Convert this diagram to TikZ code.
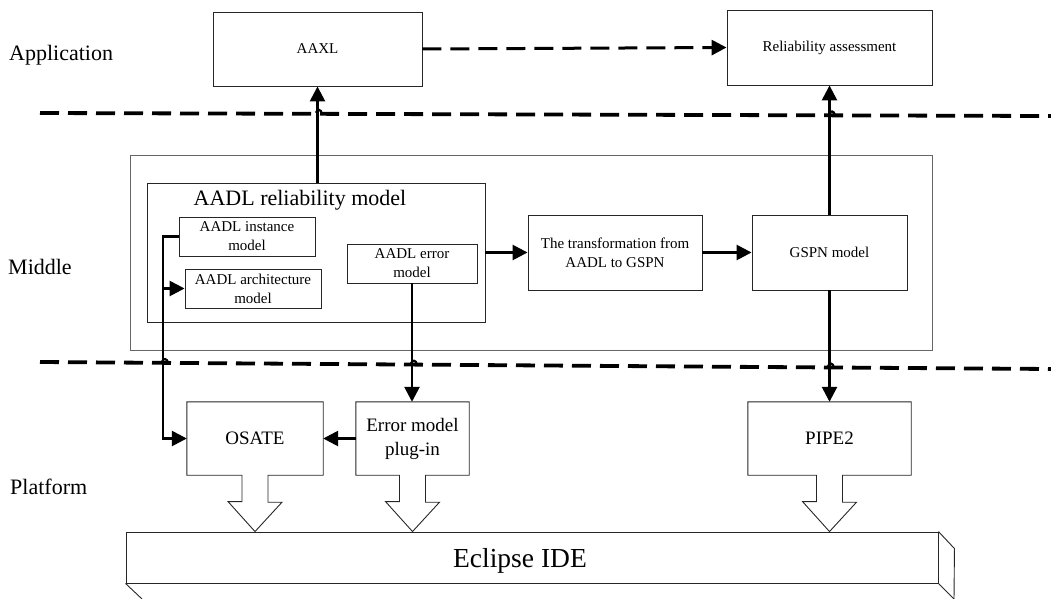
\documentclass[tikz,border=0pt]{standalone}
\usepackage{fontspec}
\setmainfont{Liberation Serif}
\usetikzlibrary{arrows.meta,calc}
\newcommand{\platformoutline}[1]{%
  \draw[outl] ([xshift=-13pt]#1.south) -- (#1.south west) -- (#1.north west) -- (#1.north east) -- (#1.south east)
    -- ([xshift=13pt]#1.south) -- ++(0,27) -- ++(14,0) -- (#1.south |- eclipse.north) -- ++(-27,-30) -- ++(14,0) -- cycle;}
\begin{document}
\begin{tikzpicture}[x=1pt,y=-1pt,
  box/.style={draw=black!85, line width=0.9pt, inner sep=0pt, align=center},
  plat/.style={inner sep=0pt, align=center, font=\fontsize{19}{24}\selectfont},
  outl/.style={draw=black!85, line width=0.9pt, line join=miter},
  small/.style={font=\fontsize{15}{19}\selectfont},
  conn/.style={line width=2.6pt, -{Triangle[length=15pt,width=15pt]}},
  sepline/.style={line width=3.8pt, dash pattern=on 19pt off 9pt},
  hop/.style={line width=2.2pt},
  lab/.style={font=\fontsize{22}{26}\selectfont, anchor=west, inner sep=0pt}]
\useasboundingbox (0,0) rectangle (1051,599);

% layer labels
\node[lab] (lapp) at (9,55) {Application};
\node[lab] (lmid) at (8,267) {Middle};
\node[lab] (lplat) at (10,487) {Platform};

% separators
\coordinate (d1a) at (40,113);
\coordinate (d1b) at (1051,116);
\coordinate (d2a) at (40,362);
\coordinate (d2b) at (1051,369);
\draw[sepline] (d1a) -- (d1b);
\draw[sepline] (d2a) -- (d2b);

% application layer
\node[box, small, minimum width=209pt, minimum height=74pt] (aaxl) at (317.5,49) {AAXL};
\node[box, small, minimum width=205pt, minimum height=75pt] (rel) at (829.5,47.5) {Reliability assessment};

% middle layer
\node[draw=black!60, line width=0.9pt, minimum width=802pt, minimum height=195pt, inner sep=0pt] (middle) at (531,252.5) {};
\node[box, minimum width=338pt, minimum height=139pt] (relmodel) at (316,252.5) {};
\node[inner sep=0pt, font=\fontsize{22}{26}\selectfont] (title) at (300,200) {AADL reliability model};
\node[box, small, minimum width=136pt, minimum height=39pt] (inst) at (247,236.5) {AADL instance\\model};
\node[box, small, minimum width=136pt, minimum height=39pt] (arch) at (253,288.5) {AADL architecture\\model};
\node[box, small, minimum width=130pt, minimum height=39pt] (err) at (412,263.5) {AADL error\\model};
\node[box, small, minimum width=174pt, minimum height=75pt] (trans) at (615,252.5) {The transformation from\\AADL to GSPN};
\node[box, small, minimum width=155pt, minimum height=75pt] (gspn) at (829.5,252.5) {GSPN model};

% platform layer
\node[draw=black!85, line width=0.9pt, inner sep=0pt, minimum width=812pt, minimum height=51pt] (eclipse) at (532,557.5) {};
\node[inner sep=0pt, font=\fontsize{27.5}{32}\selectfont] (eclipsetext) at (520,561) {Eclipse IDE};
\draw[outl] (eclipse.north east) -- ++(16,17) -- (954,599);
\draw[outl] (eclipse.south east) -- (954,599);
\draw[outl] (eclipse.south west) -- (142,599);

\node[plat, minimum width=136pt, minimum height=73pt] (osate) at (255,438.5) {OSATE};
\node[plat, minimum width=113pt, minimum height=73pt] (plugin) at (412.5,438.5) {Error model\\plug-in};
\node[plat, minimum width=163pt, minimum height=73pt] (pipe) at (829.5,438.5) {PIPE2};
\platformoutline{osate}
\platformoutline{plugin}
\platformoutline{pipe}

% connectors
\draw[line width=3pt, dash pattern=on 19pt off 9pt, -{Triangle[length=15pt,width=15pt]}] (aaxl.east) -- (rel.west);
\draw[conn] (aaxl.south |- relmodel.north) -- (aaxl.south);
\draw[conn] (relmodel.east) -- (trans.west);
\draw[conn] (trans.east) -- (gspn.west);
\draw[conn] (gspn.north -| rel.south) -- (rel.south);
\draw[conn] (gspn.south) -- (pipe.north -| gspn.south);
\draw[conn] (err.south) -- (plugin.north -| err.south);
\draw[conn] (plugin.west) -- (osate.east);
\coordinate (bend) at (163,0);
\draw[conn] (inst.west) -- (bend |- inst.west) -- (bend |- osate.west) -- (osate.west);
\draw[conn] (bend |- arch.west) -- (arch.west);

% line hops on separators
\foreach \x/\y in {163/362.9, 412/364.6, 829/367.5, 317/113.8, 830/115.3}{
  \draw[hop] (\x-1,\y-1) .. controls (\x,\y-5) and (\x+4,\y-5) .. (\x+5,\y);
}
\end{tikzpicture}
\end{document}
